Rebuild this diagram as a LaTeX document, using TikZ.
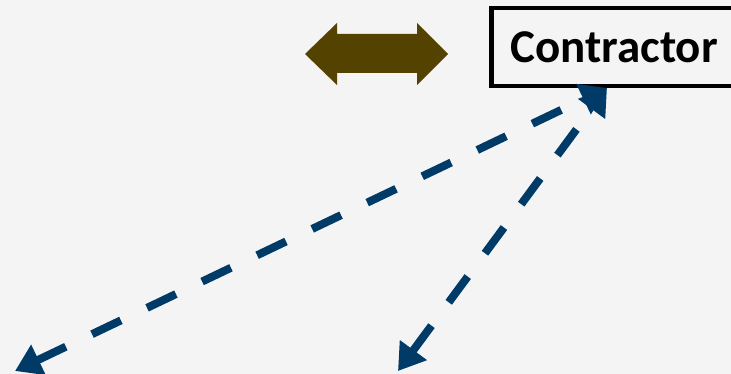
\documentclass[tikz,border=0pt]{standalone}
\usepackage{fontspec}
\setmainfont{Carlito}
\usetikzlibrary{arrows.meta}
\definecolor{bgcol}{RGB}{244,244,244}
\definecolor{linkbrown}{RGB}{84,66,0}
\definecolor{flowblue}{RGB}{0,58,102}

\begin{document}
\begin{tikzpicture}[x=1pt, y=-1pt, >={Triangle[length=26pt, width=32pt]},
    party/.style={draw, line width=4.5pt, inner xsep=19pt, inner ysep=0pt, text width=228pt, align=left, minimum height=78pt, font=\fontsize{47}{56}\selectfont\bfseries},
    flow/.style={draw=flowblue, line width=8pt, dash pattern=on 32pt off 29pt, <->}]
    \useasboundingbox (0,0) rectangle (731,374);
    \fill[bgcol] (0,0) rectangle (731,374);

    \node(contractor)[party, anchor=west] at (489,47) {Contractor};

    \fill[linkbrown] (305,54) -- (337,23) -- (337,34) -- (417,34) -- (417,23)
        -- (448,54) -- (417,85) -- (417,73) -- (337,73) -- (337,85) -- cycle;

    \coordinate(end-a) at (15,371);
    \coordinate(end-b) at (398,371);
    \coordinate(top) at (607,88);

    \draw[flow] (end-a) -- (top);
    \draw[flow] (end-b) -- (top);
\end{tikzpicture}
\end{document}
